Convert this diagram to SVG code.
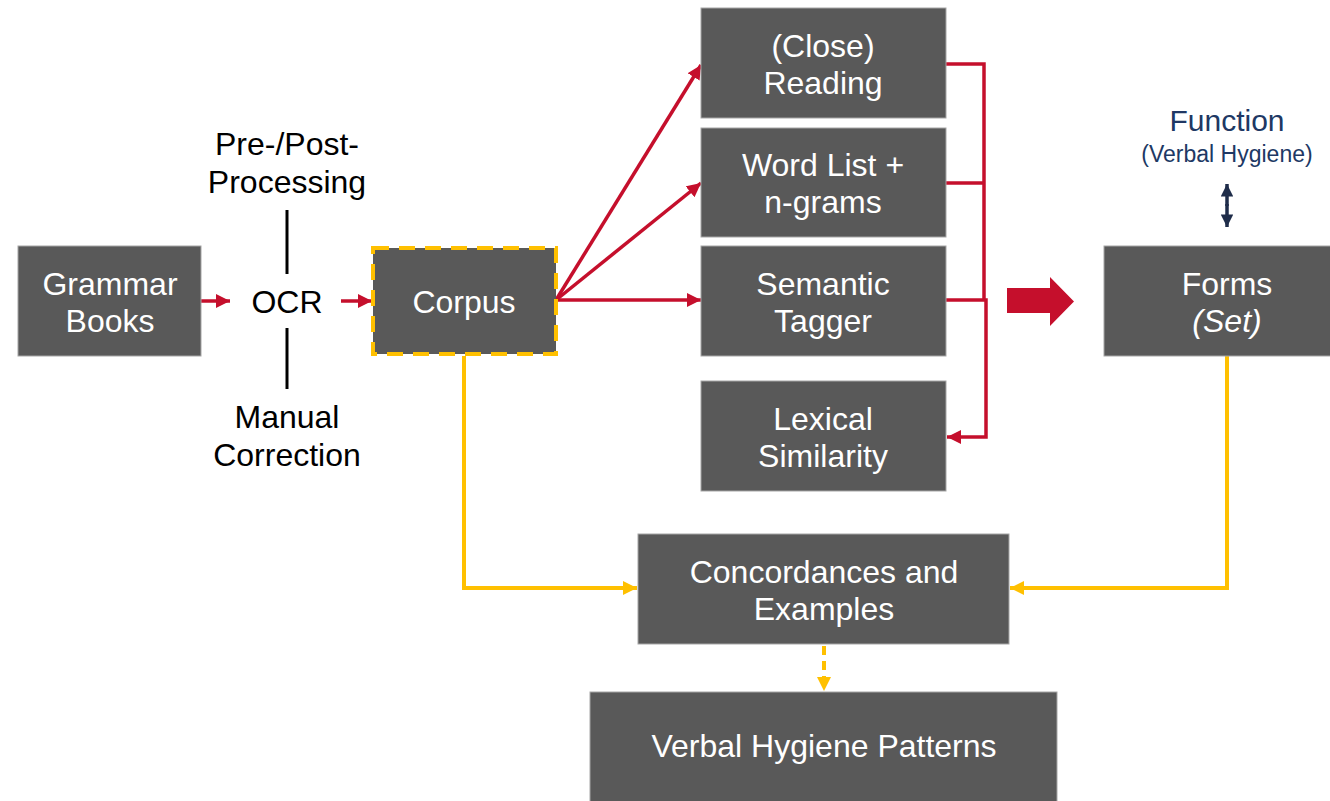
<svg xmlns="http://www.w3.org/2000/svg" width="1330" height="801" viewBox="0 0 1330 801">
<defs>
<style>
.box{fill:#595959;stroke:#a6a6a6;stroke-width:1}
.wt{font-family:"Liberation Sans",Arial,sans-serif;font-size:32px;fill:#ffffff;text-anchor:middle}
.bt{font-family:"Liberation Sans",Arial,sans-serif;font-size:32px;fill:#000000;text-anchor:middle}
.red{fill:none;stroke:#C50F2C;stroke-width:3.5}
.yel{fill:none;stroke:#FFC000;stroke-width:4}
</style>
<marker id="ar" viewBox="0 0 10 10" refX="10" refY="5" markerWidth="4" markerHeight="4" markerUnits="strokeWidth" orient="auto">
<path d="M0,0 L10,5 L0,10 z" fill="#C50F2C"/>
</marker>
<marker id="ay" viewBox="0 0 10 10" refX="10" refY="5" markerWidth="3.5" markerHeight="3.5" markerUnits="strokeWidth" orient="auto">
<path d="M0,0 L10,5 L0,10 z" fill="#FFC000"/>
</marker>
<marker id="an" viewBox="0 0 10 10" refX="10" refY="5" markerWidth="3.6" markerHeight="3.6" markerUnits="strokeWidth" orient="auto">
<path d="M0,0 L10,5 L0,10 z" fill="#1F2D4A"/>
</marker>
</defs>
<rect width="1330" height="801" fill="#ffffff"/>

<g id="connectors">
<line class="red" x1="201" y1="301" x2="230" y2="301" marker-end="url(#ar)"/>
<line class="red" x1="341" y1="301" x2="372" y2="301" marker-end="url(#ar)"/>
<line class="red" x1="556" y1="300" x2="701" y2="65" marker-end="url(#ar)"/>
<line class="red" x1="556" y1="300" x2="701" y2="183" marker-end="url(#ar)"/>
<line class="red" x1="556" y1="300" x2="701" y2="300" marker-end="url(#ar)"/>
<polyline class="red" points="946,64 984,64 984,300"/>
<line class="red" x1="946" y1="183" x2="984" y2="183"/>
<polyline class="red" points="946,300 986,300 986,437 947,437" marker-end="url(#ar)"/>
<polygon points="1007,288 1050,288 1050,277 1074,301.5 1050,326 1050,313 1007,313" fill="#C50F2C"/>
<line x1="287" y1="210" x2="287" y2="274" stroke="#000" stroke-width="3"/>
<line x1="287" y1="328" x2="287" y2="389" stroke="#000" stroke-width="3"/>
<polyline class="yel" points="464,356 464,588 637,588" marker-end="url(#ay)"/>
<polyline class="yel" points="1227,356 1227,588 1010,588" marker-end="url(#ay)"/>
<line class="yel" x1="824" y1="646" x2="824" y2="691" stroke-width="3" stroke-dasharray="9 6" marker-end="url(#ay)"/>
<line x1="1227" y1="206" x2="1227" y2="184" stroke="#1F2D4A" stroke-width="3.5" marker-end="url(#an)"/>
<line x1="1227" y1="204" x2="1227" y2="227" stroke="#1F2D4A" stroke-width="3.5" marker-end="url(#an)"/>
</g>

<g id="grammar-books">
<rect class="box" x="18" y="246" width="183" height="110"/>
<text class="wt" x="110" y="295">Grammar</text>
<text class="wt" x="110" y="332">Books</text>
</g>

<g id="ocr">
<text class="bt" x="287" y="155">Pre-/Post-</text>
<text class="bt" x="287" y="193">Processing</text>
<text class="bt" x="287" y="313">OCR</text>
<text class="bt" x="287" y="428">Manual</text>
<text class="bt" x="287" y="466">Correction</text>
</g>

<g id="corpus">
<rect x="373" y="248" width="183" height="106" fill="#595959" stroke="#FFC000" stroke-width="4" stroke-dasharray="16 10"/>
<text class="wt" x="464" y="313">Corpus</text>
</g>

<g id="close-reading">
<rect class="box" x="701" y="8" width="245" height="110"/>
<text class="wt" x="823" y="57">(Close)</text>
<text class="wt" x="823" y="94">Reading</text>
</g>

<g id="word-list">
<rect class="box" x="701" y="128" width="245" height="109"/>
<text class="wt" x="823" y="176">Word List +</text>
<text class="wt" x="823" y="213">n-grams</text>
</g>

<g id="semantic-tagger">
<rect class="box" x="701" y="246" width="245" height="110"/>
<text class="wt" x="823" y="295">Semantic</text>
<text class="wt" x="823" y="332">Tagger</text>
</g>

<g id="lexical-similarity">
<rect class="box" x="701" y="381" width="245" height="110"/>
<text class="wt" x="823" y="430">Lexical</text>
<text class="wt" x="823" y="467">Similarity</text>
</g>

<g id="function">
<text x="1227" y="131" font-family="'Liberation Sans',Arial,sans-serif" font-size="30" fill="#203864" text-anchor="middle">Function</text>
<text x="1227" y="162" font-family="'Liberation Sans',Arial,sans-serif" font-size="23" fill="#203864" text-anchor="middle">(Verbal Hygiene)</text>
</g>

<g id="forms">
<rect class="box" x="1104" y="246" width="227" height="110"/>
<text class="wt" x="1227" y="295">Forms</text>
<text class="wt" x="1227" y="332" font-style="italic">(Set)</text>
</g>

<g id="concordances">
<rect class="box" x="638" y="534" width="371" height="110"/>
<text class="wt" x="824" y="583" font-size="30">Concordances and</text>
<text class="wt" x="824" y="620" font-size="30">Examples</text>
</g>

<g id="verbal-hygiene-patterns">
<rect class="box" x="590" y="692" width="467" height="110"/>
<text class="wt" x="824" y="757">Verbal Hygiene Patterns</text>
</g>
</svg>
